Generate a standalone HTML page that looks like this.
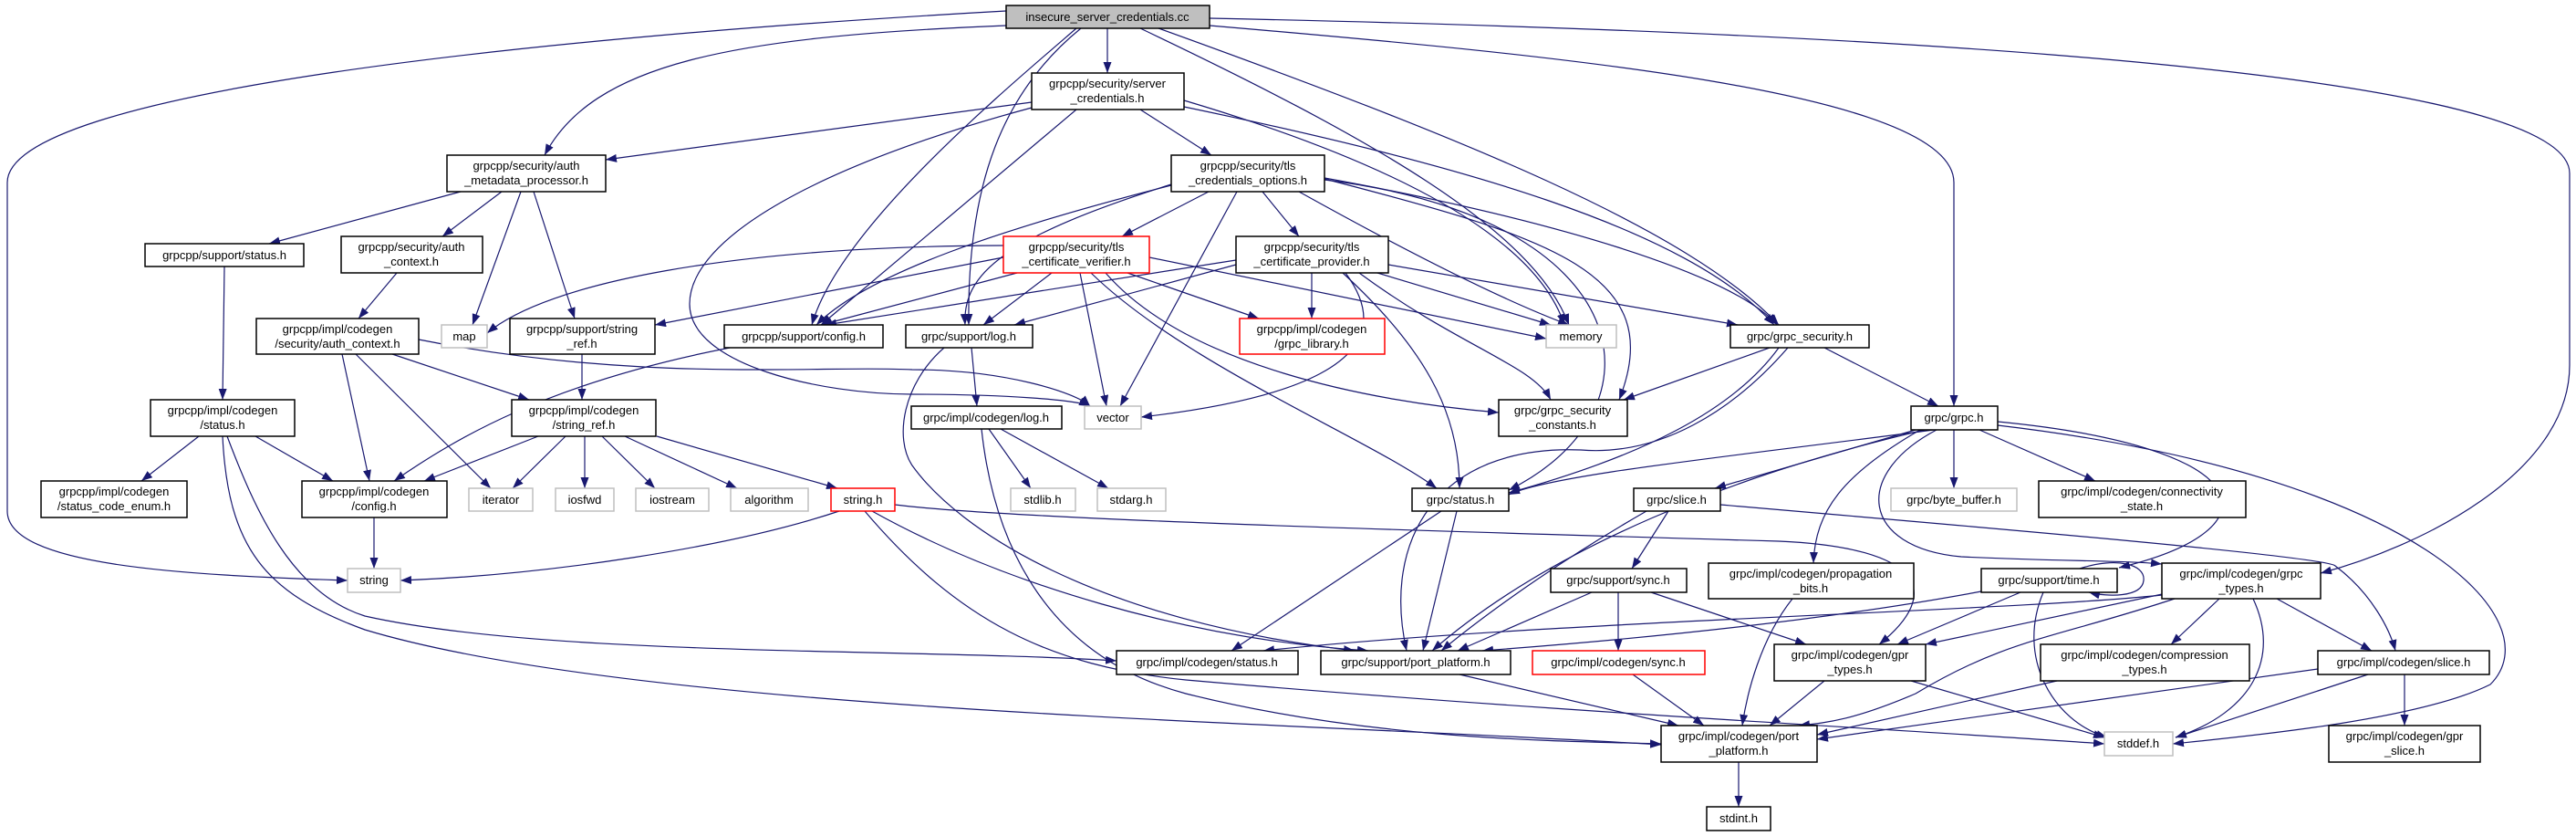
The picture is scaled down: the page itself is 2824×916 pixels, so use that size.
<!DOCTYPE html>
<html><head><meta charset="utf-8"><style>
html,body{margin:0;padding:0;background:#fff;}
svg{display:block;}
text{font-family:"Liberation Sans",sans-serif;font-size:13px;fill:#000;text-anchor:middle;}
.n{fill:#fff;stroke:#000;stroke-width:1.5;}
.g{fill:#fff;stroke:#bfbfbf;stroke-width:1.5;}
.r{fill:#fff;stroke:#ff0000;stroke-width:1.5;}
.e{fill:none;stroke:#191970;stroke-width:1.2;marker-end:url(#a);}
</style></head><body>
<svg width="2824" height="916" viewBox="0 0 2824 916" xmlns="http://www.w3.org/2000/svg">
<defs><marker id="a" markerUnits="userSpaceOnUse" markerWidth="12" markerHeight="9" refX="12" refY="4.5" orient="auto"><path d="M0,0 L12,4.5 L0,9 z" fill="#191970"/></marker></defs>
<g>
<path class="e" d="M1103,12 C600,40 8,100 8,200 L8,560 C8,620 200,630 381,636"/>
<path class="e" d="M1103,28 C800,40 650,70 597,170"/>
<path class="e" d="M1214,31 L1214,80"/>
<path class="e" d="M1180,31 C1100,100 920,250 890,356"/>
<path class="e" d="M1185,31 C1100,100 1060,200 1062,356"/>
<path class="e" d="M1250,31 C1500,150 1680,250 1720,356"/>
<path class="e" d="M1270,31 C1600,150 1850,250 1950,356"/>
<path class="e" d="M1326,28 C1700,60 2142,100 2142,200 L2142,445"/>
<path class="e" d="M1326,20 C1800,30 2817,60 2817,190 L2817,400 C2817,520 2650,600 2544,628"/>
<path class="e" d="M1131,112 L664,175"/>
<path class="e" d="M1250,120 L1328,170"/>
<path class="e" d="M1180,120 L900,356"/>
<path class="e" d="M1131,118 C900,180 756,260 756,333 C756,400 900,432 1000,432 C1100,432 1180,438 1195,445"/>
<path class="e" d="M1298,110 C1500,170 1680,250 1715,356"/>
<path class="e" d="M1298,117 C1600,180 1850,250 1945,356"/>
<path class="e" d="M1325,210 L1230,259"/>
<path class="e" d="M1384,210 L1424,259"/>
<path class="e" d="M1356,210 L1228,445"/>
<path class="e" d="M1284,203 C1100,250 950,300 895,356"/>
<path class="e" d="M1284,202 C1100,260 1055,300 1058,356"/>
<path class="e" d="M1424,210 C1550,280 1650,330 1720,356"/>
<path class="e" d="M1452,195 C1700,240 1900,300 1948,356"/>
<path class="e" d="M1452,196 C1700,260 1830,300 1775,438"/>
<path class="e" d="M1452,197 C1800,240 1830,450 1654,537"/>
<path class="e" d="M1100,269 C800,270 600,310 534,365"/>
<path class="e" d="M1100,282 L718,356"/>
<path class="e" d="M1115,299 L900,356"/>
<path class="e" d="M1153,299 L1078,356"/>
<path class="e" d="M1184,299 L1213,445"/>
<path class="e" d="M1236,299 L1380,349"/>
<path class="e" d="M1260,282 L1695,371"/>
<path class="e" d="M1212,299 C1300,400 1500,440 1643,452"/>
<path class="e" d="M1196,299 C1300,400 1500,480 1575,535"/>
<path class="e" d="M1355,285 L905,356"/>
<path class="e" d="M1355,290 L1112,356"/>
<path class="e" d="M1438,299 L1438,349"/>
<path class="e" d="M1510,299 L1700,356"/>
<path class="e" d="M1522,290 L1905,356"/>
<path class="e" d="M1490,299 C1600,380 1680,400 1700,438"/>
<path class="e" d="M1472,299 C1560,380 1600,450 1600,535"/>
<path class="e" d="M1475,299 C1550,400 1400,440 1251,457"/>
<path class="e" d="M1940,381 L1780,438"/>
<path class="e" d="M2000,381 L2125,445"/>
<path class="e" d="M1950,381 C1900,450 1800,500 1654,540"/>
<path class="e" d="M1960,381 C1900,450 1820,500 1733,493 C1574,487 1515,593 1542,713"/>
<path class="e" d="M505,210 L295,267"/>
<path class="e" d="M550,210 L485,259"/>
<path class="e" d="M571,210 L518,356"/>
<path class="e" d="M585,210 L630,349"/>
<path class="e" d="M246,292 L244,438"/>
<path class="e" d="M435,299 L393,349"/>
<path class="e" d="M375,388 L405,527"/>
<path class="e" d="M390,388 L538,535"/>
<path class="e" d="M430,388 L580,438"/>
<path class="e" d="M459,372 C700,420 900,400 1000,405 C1100,405 1180,430 1195,445"/>
<path class="e" d="M638,388 L638,438"/>
<path class="e" d="M800,381 C600,420 500,480 432,527"/>
<path class="e" d="M590,478 L465,527"/>
<path class="e" d="M620,478 L562,535"/>
<path class="e" d="M641,478 L641,535"/>
<path class="e" d="M660,478 L718,535"/>
<path class="e" d="M685,478 L808,535"/>
<path class="e" d="M720,478 L918,535"/>
<path class="e" d="M218,478 L155,527"/>
<path class="e" d="M280,478 L365,527"/>
<path class="e" d="M249,478 C280,560 320,650 400,675 C600,720 1000,710 1224,724"/>
<path class="e" d="M244,478 C250,600 290,650 400,690 C700,780 1400,790 1821,816"/>
<path class="e" d="M410,567 L410,623"/>
<path class="e" d="M920,560 C800,600 600,630 439,636"/>
<path class="e" d="M956,560 C1100,640 1300,700 1500,713"/>
<path class="e" d="M948,560 C1050,680 1150,730 1300,745 C1700,780 2100,800 2307,815"/>
<path class="e" d="M981,553 C1100,568 1500,580 1950,593 C2110,600 2130,650 2060,706"/>
<path class="e" d="M1065,381 L1071,445"/>
<path class="e" d="M1035,381 C990,420 980,480 1000,510 C1050,580 1200,680 1485,713"/>
<path class="e" d="M1084,470 L1130,535"/>
<path class="e" d="M1097,470 L1215,535"/>
<path class="e" d="M1076,470 C1090,600 1150,720 1300,760 C1500,810 1700,812 1821,815"/>
<path class="e" d="M2120,471 C1900,500 1700,520 1654,542"/>
<path class="e" d="M2110,471 C1900,520 1700,600 1570,713"/>
<path class="e" d="M2100,471 L1880,535"/>
<path class="e" d="M2105,471 C2020,520 1990,560 1988,617"/>
<path class="e" d="M2142,471 L2142,535"/>
<path class="e" d="M2170,471 L2297,527"/>
<path class="e" d="M2190,462 C2480,490 2500,580 2323,622"/>
<path class="e" d="M2123,471 C2030,520 2040,600 2150,610 C2250,615 2330,614 2370,618"/>
<path class="e" d="M2190,466 C2650,520 2800,680 2730,750 C2650,790 2450,808 2382,815"/>
<path class="e" d="M1829,560 L1789,623"/>
<path class="e" d="M1805,560 C1700,620 1620,680 1580,713"/>
<path class="e" d="M1886,553 C2200,580 2550,610 2560,620 C2600,650 2620,690 2626,713"/>
<path class="e" d="M1745,649 L1598,713"/>
<path class="e" d="M1774,649 L1774,713"/>
<path class="e" d="M1810,649 L1980,706"/>
<path class="e" d="M1965,656 C1930,700 1915,760 1910,795"/>
<path class="e" d="M2280,623 C2320,610 2352,618 2350,636 C2348,655 2310,654 2290,649"/>
<path class="e" d="M2172,648 C2000,680 1800,700 1625,713"/>
<path class="e" d="M2215,649 L2080,706"/>
<path class="e" d="M2240,649 C2210,720 2250,790 2310,808"/>
<path class="e" d="M2370,652 C2200,670 1700,680 1385,713"/>
<path class="e" d="M2375,650 L2111,706"/>
<path class="e" d="M2384,656 C2250,700 2200,700 2100,760 C2030,790 2000,792 1972,795"/>
<path class="e" d="M2433,656 L2380,706"/>
<path class="e" d="M2496,656 L2600,713"/>
<path class="e" d="M2470,656 C2500,720 2470,780 2385,808"/>
<path class="e" d="M1580,560 L1350,713"/>
<path class="e" d="M1597,560 L1560,713"/>
<path class="e" d="M1600,739 L1840,795"/>
<path class="e" d="M1790,739 L1868,795"/>
<path class="e" d="M2000,746 L1940,795"/>
<path class="e" d="M2095,746 L2307,808"/>
<path class="e" d="M2255,746 L1992,805"/>
<path class="e" d="M2541,733 L1992,810"/>
<path class="e" d="M2596,739 L2385,808"/>
<path class="e" d="M2636,739 L2636,795"/>
<path class="e" d="M1906,835 L1906,884"/>
</g>
<g>
<rect x="1103" y="6" width="223" height="25" fill="#bfbfbf" stroke="#000" stroke-width="1.5"/><text x="1214" y="23">insecure_server_credentials.cc</text>
<rect class="n" x="1131" y="80" width="167" height="40"/><text x="1214" y="96">grpcpp/security/server</text><text x="1214" y="112">_credentials.h</text>
<rect class="n" x="490" y="170" width="174" height="40"/><text x="577" y="186">grpcpp/security/auth</text><text x="577" y="202">_metadata_processor.h</text>
<rect class="n" x="1284" y="170" width="168" height="40"/><text x="1368" y="186">grpcpp/security/tls</text><text x="1368" y="202">_credentials_options.h</text>
<rect class="n" x="159" y="267" width="174" height="25"/><text x="246" y="284">grpcpp/support/status.h</text>
<rect class="n" x="374" y="259" width="155" height="40"/><text x="451" y="275">grpcpp/security/auth</text><text x="451" y="291">_context.h</text>
<rect class="r" x="1100" y="259" width="160" height="40"/><text x="1180" y="275">grpcpp/security/tls</text><text x="1180" y="291">_certificate_verifier.h</text>
<rect class="n" x="1355" y="259" width="167" height="40"/><text x="1438" y="275">grpcpp/security/tls</text><text x="1438" y="291">_certificate_provider.h</text>
<rect class="n" x="281" y="349" width="178" height="39"/><text x="370" y="365">grpcpp/impl/codegen</text><text x="370" y="381">/security/auth_context.h</text>
<rect class="g" x="484" y="356" width="50" height="25"/><text x="509" y="373">map</text>
<rect class="n" x="559" y="349" width="159" height="39"/><text x="638" y="365">grpcpp/support/string</text><text x="638" y="381">_ref.h</text>
<rect class="n" x="794" y="356" width="174" height="25"/><text x="881" y="373">grpcpp/support/config.h</text>
<rect class="n" x="993" y="356" width="139" height="25"/><text x="1062" y="373">grpc/support/log.h</text>
<rect class="r" x="1359" y="349" width="159" height="39"/><text x="1438" y="365">grpcpp/impl/codegen</text><text x="1438" y="381">/grpc_library.h</text>
<rect class="g" x="1695" y="356" width="77" height="25"/><text x="1733" y="373">memory</text>
<rect class="n" x="1897" y="356" width="152" height="25"/><text x="1973" y="373">grpc/grpc_security.h</text>
<rect class="n" x="165" y="438" width="158" height="40"/><text x="244" y="454">grpcpp/impl/codegen</text><text x="244" y="470">/status.h</text>
<rect class="n" x="561" y="438" width="158" height="40"/><text x="640" y="454">grpcpp/impl/codegen</text><text x="640" y="470">/string_ref.h</text>
<rect class="n" x="999" y="445" width="165" height="25"/><text x="1081" y="462">grpc/impl/codegen/log.h</text>
<rect class="g" x="1189" y="445" width="62" height="25"/><text x="1220" y="462">vector</text>
<rect class="n" x="1643" y="438" width="141" height="40"/><text x="1713" y="454">grpc/grpc_security</text><text x="1713" y="470">_constants.h</text>
<rect class="n" x="2095" y="445" width="95" height="26"/><text x="2142" y="462">grpc/grpc.h</text>
<rect class="n" x="45" y="527" width="160" height="40"/><text x="125" y="543">grpcpp/impl/codegen</text><text x="125" y="559">/status_code_enum.h</text>
<rect class="n" x="331" y="527" width="159" height="40"/><text x="410" y="543">grpcpp/impl/codegen</text><text x="410" y="559">/config.h</text>
<rect class="g" x="514" y="535" width="70" height="25"/><text x="549" y="552">iterator</text>
<rect class="g" x="609" y="535" width="64" height="25"/><text x="641" y="552">iosfwd</text>
<rect class="g" x="697" y="535" width="80" height="25"/><text x="737" y="552">iostream</text>
<rect class="g" x="801" y="535" width="85" height="25"/><text x="843" y="552">algorithm</text>
<rect class="r" x="911" y="535" width="70" height="25"/><text x="946" y="552">string.h</text>
<rect class="g" x="1108" y="535" width="71" height="25"/><text x="1143" y="552">stdlib.h</text>
<rect class="g" x="1203" y="535" width="75" height="25"/><text x="1240" y="552">stdarg.h</text>
<rect class="n" x="1548" y="535" width="106" height="25"/><text x="1601" y="552">grpc/status.h</text>
<rect class="n" x="1791" y="535" width="95" height="25"/><text x="1838" y="552">grpc/slice.h</text>
<rect class="g" x="2073" y="535" width="138" height="25"/><text x="2142" y="552">grpc/byte_buffer.h</text>
<rect class="n" x="2235" y="527" width="227" height="40"/><text x="2348" y="543">grpc/impl/codegen/connectivity</text><text x="2348" y="559">_state.h</text>
<rect class="g" x="381" y="623" width="58" height="26"/><text x="410" y="640">string</text>
<rect class="n" x="1700" y="623" width="149" height="26"/><text x="1774" y="640">grpc/support/sync.h</text>
<rect class="n" x="1873" y="617" width="225" height="39"/><text x="1985" y="633">grpc/impl/codegen/propagation</text><text x="1985" y="649">_bits.h</text>
<rect class="n" x="2172" y="623" width="149" height="26"/><text x="2246" y="640">grpc/support/time.h</text>
<rect class="n" x="2370" y="617" width="174" height="39"/><text x="2457" y="633">grpc/impl/codegen/grpc</text><text x="2457" y="649">_types.h</text>
<rect class="n" x="1224" y="713" width="199" height="26"/><text x="1323" y="730">grpc/impl/codegen/status.h</text>
<rect class="n" x="1448" y="713" width="208" height="26"/><text x="1552" y="730">grpc/support/port_platform.h</text>
<rect class="r" x="1680" y="713" width="189" height="26"/><text x="1774" y="730">grpc/impl/codegen/sync.h</text>
<rect class="n" x="1945" y="706" width="166" height="40"/><text x="2028" y="722">grpc/impl/codegen/gpr</text><text x="2028" y="738">_types.h</text>
<rect class="n" x="2237" y="706" width="229" height="40"/><text x="2351" y="722">grpc/impl/codegen/compression</text><text x="2351" y="738">_types.h</text>
<rect class="n" x="2541" y="713" width="188" height="26"/><text x="2635" y="730">grpc/impl/codegen/slice.h</text>
<rect class="n" x="1821" y="795" width="171" height="40"/><text x="1906" y="811">grpc/impl/codegen/port</text><text x="1906" y="827">_platform.h</text>
<rect class="g" x="2307" y="802" width="75" height="26"/><text x="2344" y="819">stddef.h</text>
<rect class="n" x="2553" y="795" width="166" height="40"/><text x="2636" y="811">grpc/impl/codegen/gpr</text><text x="2636" y="827">_slice.h</text>
<rect class="n" x="1871" y="884" width="70" height="26"/><text x="1906" y="901">stdint.h</text>
</g>
</svg>
</body></html>
